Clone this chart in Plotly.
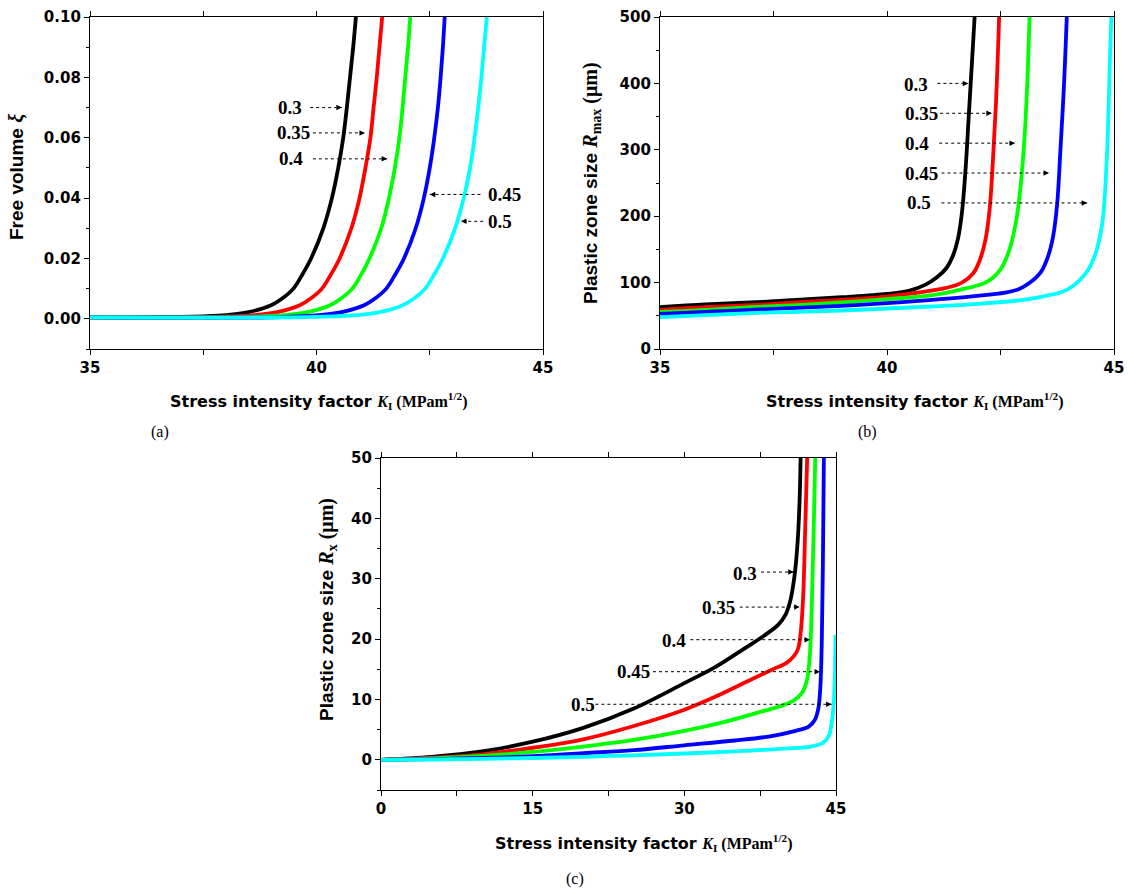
import plotly.graph_objects as go

# ---------------- data ----------------
series_names = ["0.3", "0.35", "0.4", "0.45", "0.5"]
colors = ["#000000", "#FF0000", "#00FF00", "#0000FF", "#00FFFF"]

# (a) free volume vs K_I
a_x_03 = [35, 36, 37, 37.5, 38, 38.5, 39, 39.25, 39.49, 39.70, 39.88, 40.15, 40.34, 40.48, 40.59, 40.67, 40.74, 40.81, 40.87]
a_y_03 = [.0005, .0005, .0006, .0008, .0012, .0022, .0045, .0068, .010, .015, .020, .030, .040, .050, .060, .070, .080, .090, .100]
a_x_035 = [35, 37, 38.1, 38.63, 39.13, 39.63, 39.88, 40.12, 40.33, 40.51, 40.77, 40.95, 41.08, 41.19, 41.26, 41.33, 41.39, 41.45]
a_y_035 = [.0005, .0005, .0008, .0012, .0022, .0045, .0068, .010, .015, .020, .030, .040, .050, .060, .070, .080, .090, .100]
a_x_04 = [35, 38, 38.8, 39.3, 39.8, 40.3, 40.55, 40.79, 41.0, 41.17, 41.43, 41.6, 41.73, 41.83, 41.9, 41.96, 42.02, 42.07]
a_y_04 = [.0005, .0005, .0008, .0012, .0022, .0045, .0068, .010, .015, .020, .030, .040, .050, .060, .070, .080, .090, .100]
a_x_045 = [35, 39, 39.55, 40.05, 40.55, 41.05, 41.3, 41.54, 41.75, 41.93, 42.19, 42.37, 42.5, 42.6, 42.68, 42.74, 42.79, 42.83]
a_y_045 = [.0005, .0005, .0008, .0012, .0022, .0045, .0068, .010, .015, .020, .030, .040, .050, .060, .070, .080, .090, .100]
a_x_05 = [35, 39.5, 40.4, 40.9, 41.4, 41.9, 42.16, 42.40, 42.61, 42.79, 43.06, 43.25, 43.39, 43.49, 43.57, 43.64, 43.70, 43.76]
a_y_05 = [.0005, .0005, .0008, .0012, .0022, .0045, .0068, .010, .015, .020, .030, .040, .050, .060, .070, .080, .090, .100]

# (b) plastic zone size R_max vs K_I
b_x_03 = [35, 36, 37, 38, 39, 40, 40.5, 40.85, 41.1, 41.31, 41.45, 41.56, 41.65, 41.73, 41.8, 41.87, 41.93]
b_y_03 = [63, 67, 70, 74, 78, 83, 88, 97, 108, 122, 140, 165, 205, 270, 350, 430, 500]
b_x_035 = [35, 36, 37, 38, 39, 40, 40.6, 41.3, 41.65, 41.9, 42.05, 42.17, 42.26, 42.33, 42.4, 42.47]
b_y_035 = [59, 63, 66, 70, 74, 79, 84, 92, 100, 114, 135, 165, 210, 280, 370, 500]
b_x_04 = [35, 36, 37, 38, 39, 40, 41, 41.6, 42.2, 42.5, 42.7, 42.85, 42.95, 43.03, 43.09, 43.14]
b_y_04 = [56, 59, 63, 66, 70, 75, 81, 89, 101, 120, 150, 195, 250, 320, 400, 500]
b_x_045 = [35, 36, 37, 38, 39, 40, 41, 42, 42.6, 42.9, 43.15, 43.4, 43.55, 43.66, 43.75, 43.82, 43.9, 43.96]
b_y_045 = [53, 56, 59, 62, 65, 69, 74, 80, 85, 90, 100, 117, 140, 170, 220, 300, 400, 500]
b_x_05 = [35, 36, 37, 38, 39, 40, 41, 42, 43.0, 43.5, 43.96, 44.32, 44.54, 44.73, 44.84, 44.91, 44.94]
b_y_05 = [48, 51, 54, 56, 58, 61, 64, 68, 74, 80, 89, 109, 134, 184, 285, 435, 500]

# (c) plastic zone size R_x vs K_I
c_x_03 = [0, 5, 10, 15, 20, 25, 30, 33, 36, 38, 39.3, 40.0, 40.5, 40.9, 41.2, 41.4, 41.5]
c_y_03 = [0, 0.5, 1.4, 3.0, 5.3, 8.5, 12.7, 15.3, 18.5, 20.7, 22.4, 24.0, 26.5, 30.5, 36, 43, 50]
c_x_035 = [0, 5, 10, 15, 20, 25, 30, 33, 36, 38.5, 40.3, 41.2, 41.5, 41.75, 41.95, 42.15]
c_y_035 = [0, 0.35, 0.9, 2.0, 3.4, 5.6, 8.3, 10.4, 12.8, 14.8, 16.3, 18.2, 21, 27, 38, 50]
c_x_04 = [0, 5, 10, 15, 20, 25, 30, 34, 37, 39.5, 40.8, 41.6, 42.1, 42.4, 42.6, 42.75, 42.95]
c_y_04 = [0, 0.25, 0.65, 1.3, 2.2, 3.3, 4.8, 6.3, 7.7, 8.9, 9.8, 11.0, 13, 17, 25, 35, 50]
c_x_045 = [0, 5, 10, 15, 20, 25, 30, 35, 38.5, 41, 42.3, 42.9, 43.25, 43.45, 43.6, 43.7, 43.8]
c_y_045 = [0, 0.1, 0.3, 0.6, 1.1, 1.6, 2.4, 3.2, 3.9, 4.8, 5.5, 6.6, 8.5, 12, 20, 32, 50]
c_x_05 = [0, 5, 10, 15, 20, 25, 30, 35, 40, 42.5, 43.7, 44.3, 44.6, 44.8, 44.9, 44.95]
c_y_05 = [0, 0.05, 0.15, 0.3, 0.5, 0.75, 1.05, 1.4, 1.85, 2.2, 2.8, 4.0, 6.5, 10, 15, 20.7]

panel_a = [(a_x_03, a_y_03), (a_x_035, a_y_035), (a_x_04, a_y_04), (a_x_045, a_y_045), (a_x_05, a_y_05)]
panel_b = [(b_x_03, b_y_03), (b_x_035, b_y_035), (b_x_04, b_y_04), (b_x_045, b_y_045), (b_x_05, b_y_05)]
panel_c = [(c_x_03, c_y_03), (c_x_035, c_y_035), (c_x_04, c_y_04), (c_x_045, c_y_045), (c_x_05, c_y_05)]

# label annotations: (label x, label y, arrow tail x, arrow head x, arrow y)
a_labels = [(39.42, 0.0700, 39.86, 40.56, 0.0700),
            (39.50, 0.0616, 39.92, 41.07, 0.0616),
            (39.44, 0.0530, 39.92, 41.56, 0.0530),
            (44.14, 0.0412, 43.62, 42.50, 0.0412),
            (44.05, 0.0323, 43.68, 43.19, 0.0323)]
b_labels = [(40.64, 398, 41.11, 41.79, 400),
            (40.75, 355, 41.17, 42.31, 355),
            (40.67, 310, 41.15, 42.82, 310),
            (40.77, 265, 41.20, 43.57, 265),
            (40.70, 220, 41.20, 44.41, 220)]
c_labels = [(36.0, 30.9, 37.58, 40.82, 31.1),
            (33.33, 25.2, 35.48, 41.41, 25.3),
            (28.98, 19.8, 30.59, 42.43, 19.9),
            (25.02, 14.6, 26.90, 43.42, 14.6),
            (19.98, 9.1, 21.20, 44.57, 9.2)]

# ---------------- figure ----------------
W, H = 1128, 891
fig = go.Figure()

panels = [("x", "y", panel_a, a_labels), ("x2", "y2", panel_b, b_labels), ("x3", "y3", panel_c, c_labels)]
for xa, ya, data, labels in panels:
    for (xs, ys), col, name in zip(data, colors, series_names):
        fig.add_trace(go.Scatter(x=xs, y=ys, mode="lines", name=name, xaxis=xa, yaxis=ya,
                                 line=dict(color=col, width=3.8, shape="spline", smoothing=1.0),
                                 showlegend=False, hoverinfo="skip"))

serif = "Liberation Serif"
sans_h = "DejaVu Sans"
sans_v = "Liberation Sans"

annotations = []
shapes = []
for xa, ya, data, labels in panels:
    for (lx, ly, tx, hx, ay), name in zip(labels, series_names):
        annotations.append(dict(x=lx, y=ly, xref=xa, yref=ya, text=name, showarrow=False,
                                xanchor="center", yanchor="middle",
                                font=dict(family=serif, size=19, color="black", weight="bold")))
        shapes.append(dict(type="line", xref=xa, yref=ya, x0=tx, x1=hx, y0=ay, y1=ay,
                           line=dict(color="black", width=1, dash="dot")))
        direction = -1 if hx > tx else 1
        annotations.append(dict(x=hx, y=ay, xref=xa, yref=ya, text="", showarrow=True,
                                ax=7 * direction, ay=0, arrowhead=2, arrowsize=1.1,
                                arrowwidth=1, arrowcolor="black"))

xtitle = ("Stress intensity factor <span style=\"font-family:Liberation Serif\"><i>K</i>"
          "<sub>I</sub> (MPam<sup>1/2</sup>)</span>")
title_font_h = dict(family=sans_h, size=16, color="black", weight="bold")
title_font_v = dict(family=sans_v, size=19, color="black", weight="bold")

def px_x(p):
    return p / W

def px_y(p):
    return 1 - p / H

serif_span = "<span style=\"font-family:Liberation Serif;font-size:20px\">"

annotations += [
    dict(x=px_x(318), y=px_y(401), xref="paper", yref="paper", text=xtitle, showarrow=False,
         xanchor="center", yanchor="middle", font=title_font_h),
    dict(x=px_x(914), y=px_y(401), xref="paper", yref="paper", text=xtitle, showarrow=False,
         xanchor="center", yanchor="middle", font=title_font_h),
    dict(x=px_x(643), y=px_y(843), xref="paper", yref="paper", text=xtitle, showarrow=False,
         xanchor="center", yanchor="middle", font=title_font_h),
    dict(x=px_x(16), y=px_y(177), xref="paper", yref="paper", textangle=-90,
         text="Free volume " + serif_span + "<i>ξ</i></span>",
         showarrow=False, xanchor="center", yanchor="middle", font=title_font_v),
    dict(x=px_x(591), y=px_y(183), xref="paper", yref="paper", textangle=-90,
         text="Plastic zone size " + serif_span + "<i>R</i><sub>max</sub> (μm)</span>",
         showarrow=False, xanchor="center", yanchor="middle", font=title_font_v),
    dict(x=px_x(327), y=px_y(610), xref="paper", yref="paper", textangle=-90,
         text="Plastic zone size " + serif_span + "<i>R</i><sub>x</sub> (μm)</span>",
         showarrow=False, xanchor="center", yanchor="middle", font=title_font_v),
    dict(x=px_x(160), y=px_y(432), xref="paper", yref="paper", text="(a)", showarrow=False,
         xanchor="center", yanchor="middle", font=dict(family=serif, size=16, color="black")),
    dict(x=px_x(868), y=px_y(432), xref="paper", yref="paper", text="(b)", showarrow=False,
         xanchor="center", yanchor="middle", font=dict(family=serif, size=16, color="black")),
    dict(x=px_x(575), y=px_y(879), xref="paper", yref="paper", text="(c)", showarrow=False,
         xanchor="center", yanchor="middle", font=dict(family=serif, size=16, color="black")),
]

tickfont = dict(family=sans_h, size=15, color="black", weight="bold")

def xaxis(domain, rng, tickvals, minor_dtick, anchor):
    return dict(domain=domain, range=rng, tickmode="array", tickvals=tickvals,
                ticks="outside", ticklen=5, tickwidth=1.2, tickcolor="black",
                minor=dict(ticks="outside", ticklen=5, tickwidth=1.2, tickcolor="black",
                           tickmode="linear", tick0=rng[0], dtick=minor_dtick, showgrid=False),
                showline=True, linecolor="black", linewidth=1.3, mirror="allticks",
                showgrid=False, zeroline=False, tickfont=tickfont, anchor=anchor,
                automargin=False, fixedrange=True)

def yaxis(domain, rng, tickvals, ticktext, minor_dtick, anchor):
    return dict(domain=domain, range=rng, tickmode="array", tickvals=tickvals, ticktext=ticktext,
                ticks="outside", ticklen=5, tickwidth=1.2, tickcolor="black",
                minor=dict(ticks="outside", ticklen=3, tickwidth=1.2, tickcolor="black",
                           tickmode="linear", tick0=0, dtick=minor_dtick, showgrid=False),
                showline=True, linecolor="black", linewidth=1.3, mirror=True,
                showgrid=False, zeroline=False, tickfont=tickfont, anchor=anchor,
                automargin=False, fixedrange=True)

a_yticks = [0.00, 0.02, 0.04, 0.06, 0.08, 0.10]
a_yticktext = ["0.00", "0.02", "0.04", "0.06", "0.08", "0.10"]
b_yticks = [0, 100, 200, 300, 400, 500]
c_yticks = [0, 10, 20, 30, 40, 50]
ab_xticks = [35, 40, 45]
c_xticks = [0, 15, 30, 45]

fig.update_layout(
    width=W, height=H, margin=dict(l=0, r=0, t=0, b=0, autoexpand=False),
    paper_bgcolor="white", plot_bgcolor="white",
    xaxis=xaxis([px_x(90), px_x(543)], [35, 45], ab_xticks, 2.5, "y"),
    yaxis=yaxis([px_y(349), px_y(17)], [-0.01, 0.10], a_yticks, a_yticktext, 0.01, "x"),
    xaxis2=xaxis([px_x(660), px_x(1114)], [35, 45], ab_xticks, 2.5, "y2"),
    yaxis2=yaxis([px_y(349), px_y(17)], [0, 500], b_yticks, [str(v) for v in b_yticks], 50, "x2"),
    xaxis3=xaxis([px_x(381), px_x(836)], [0, 45], c_xticks, 7.5, "y3"),
    yaxis3=yaxis([px_y(790), px_y(458)], [-5, 50], c_yticks, [str(v) for v in c_yticks], 5, "x3"),
    annotations=annotations, shapes=shapes,
)

fig.write_html("out.html")
